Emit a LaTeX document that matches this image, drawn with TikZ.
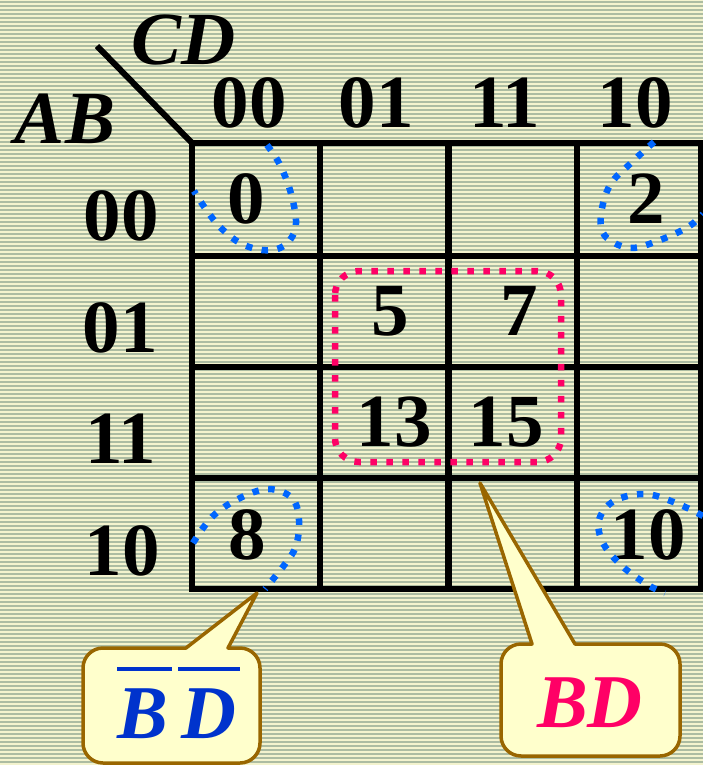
\documentclass[tikz,border=0pt]{standalone}
\usepackage{fontspec}
\setmainfont{Liberation Serif}
\definecolor{cream}{RGB}{243,243,206}
\definecolor{stripe}{RGB}{172,188,162}
\definecolor{loopblue}{RGB}{0,102,255}
\definecolor{looppink}{RGB}{255,0,102}
\definecolor{calloutfill}{RGB}{255,255,204}
\definecolor{calloutedge}{RGB}{153,102,0}
\definecolor{textblue}{RGB}{0,51,204}
\begin{document}
\begin{tikzpicture}[x=1pt,y=-1pt,
  num/.style={font=\fontsize{75}{80}\selectfont\bfseries, inner sep=0pt},
  var/.style={font=\fontsize{75}{80}\selectfont\bfseries\itshape, inner sep=0pt},
  ctext/.style={font=\fontsize{76}{80}\selectfont\bfseries\itshape, inner sep=0pt},
  gridline/.style={line width=6.5pt},
  bluedots/.style={draw=loopblue, line width=6.5pt, dash pattern=on 6.5pt off 9.5pt},
  pinkdots/.style={draw=looppink, line width=6.5pt, dash pattern=on 6.5pt off 9.5pt},
  callout/.style={fill=calloutfill, draw=calloutedge, line width=3.5pt, line join=round},
]
\useasboundingbox (0,0) rectangle (703,765);
% background stripes
\fill[cream] (0,0) rectangle (703,765);
\foreach \i in {0,...,191} {\fill[stripe] (0,{4*\i+1}) rectangle (703,{4*\i+2.9});}

% corner coordinates of the map
\coordinate (tl) at (192,143);
\coordinate (diag) at (97,46);
% grid
\draw[gridline, line width=6pt] (diag) -- (tl);
\foreach \x in {320,448.5,577} {\draw[gridline] (\x,143) -- (\x,589);}
\foreach \y in {256,367,478} {\draw[gridline] (192,\y) -- (701,\y);}
\draw[gridline, line join=miter] (tl) rectangle (701,589);

% variable labels
\node[var] (cd) at (184,40) {CD};
\node[var] (ab) at (65,119) {AB};

% column headers
\node[num] (c00) at (249,103) {00};
\node[num] (c01) at (376,103) {01};
\node[num] (c11) at (505,103) {11};
\node[num] (c10) at (635,103) {10};
% row headers
\node[num] (r00) at (121,216) {00};
\node[num] (r01) at (120,328) {01};
\node[num] (r11) at (121,439) {11};
\node[num] (r10) at (122,551) {10};

% cell numbers
\node[num] (m0) at (246,199) {0};
\node[num] (m2) at (646,199) {2};
\node[num] (m5) at (390,311) {5};
\node[num] (m7) at (519,311) {7};
\node[num] (m13) at (394,422) {13};
\node[num] (m15) at (506,422) {15};
\node[num] (m8) at (247,535) {8};
\node[num] (m10) at (648,535) {10};

% pink group
\draw[pinkdots, rounded corners=24pt] (335,271) rectangle (561,462);

% blue corner loops
\draw[bluedots] plot[smooth, tension=0.6] coordinates {(267,145) (279,163) (290,190) (296,220) (292,237) (280,248) (262,250) (240,243) (220,227) (205,208) (194,191)};
\draw[bluedots] plot[smooth, tension=0.6] coordinates {(654,142) (631,163) (610,185) (601,215) (605,236) (630,248) (660,240) (688,227) (703,214)};
\draw[bluedots] plot[smooth, tension=0.6] coordinates {(193,543) (212,517) (238,499) (268,489) (292,498) (299,520) (296,546) (285,564) (265,589)};
\draw[bluedots] plot[smooth, tension=0.6] coordinates {(703,516) (676,503) (645,494) (614,501) (599,520) (603,543) (622,566) (648,585) (665,593)};

% callouts
\coordinate (tipL) at (257,593);
\coordinate (tipR) at (480,483);
\path[callout] (186,648) -- (tipL) -- (228,648) -- (240,648)
   .. controls (251,648) and (260,657) .. (260,668) -- (260,743)
   .. controls (260,754) and (251,763) .. (240,763) -- (103,763)
   .. controls (92,763) and (83,754) .. (83,743) -- (83,668)
   .. controls (83,657) and (92,648) .. (103,648) -- cycle;
\path[callout] (575,644) -- (660,644)
   .. controls (671,644) and (680,653) .. (680,664) -- (680,736)
   .. controls (680,747) and (671,756) .. (660,756) -- (521,756)
   .. controls (510,756) and (501,747) .. (501,736) -- (501,664)
   .. controls (501,653) and (510,644) .. (521,644) -- (532,644) -- (tipR) -- cycle;

\node[ctext, textblue] (bbar) at (143,714) {B};
\node[ctext, textblue] (dbar) at (209,714) {D};
\draw[textblue, line width=4pt] (117,669) -- (172,669);
\draw[textblue, line width=4pt] (178,669) -- (240,669);
\node[ctext, looppink] (bd) at (590,703) {BD};
\end{tikzpicture}
\end{document}
